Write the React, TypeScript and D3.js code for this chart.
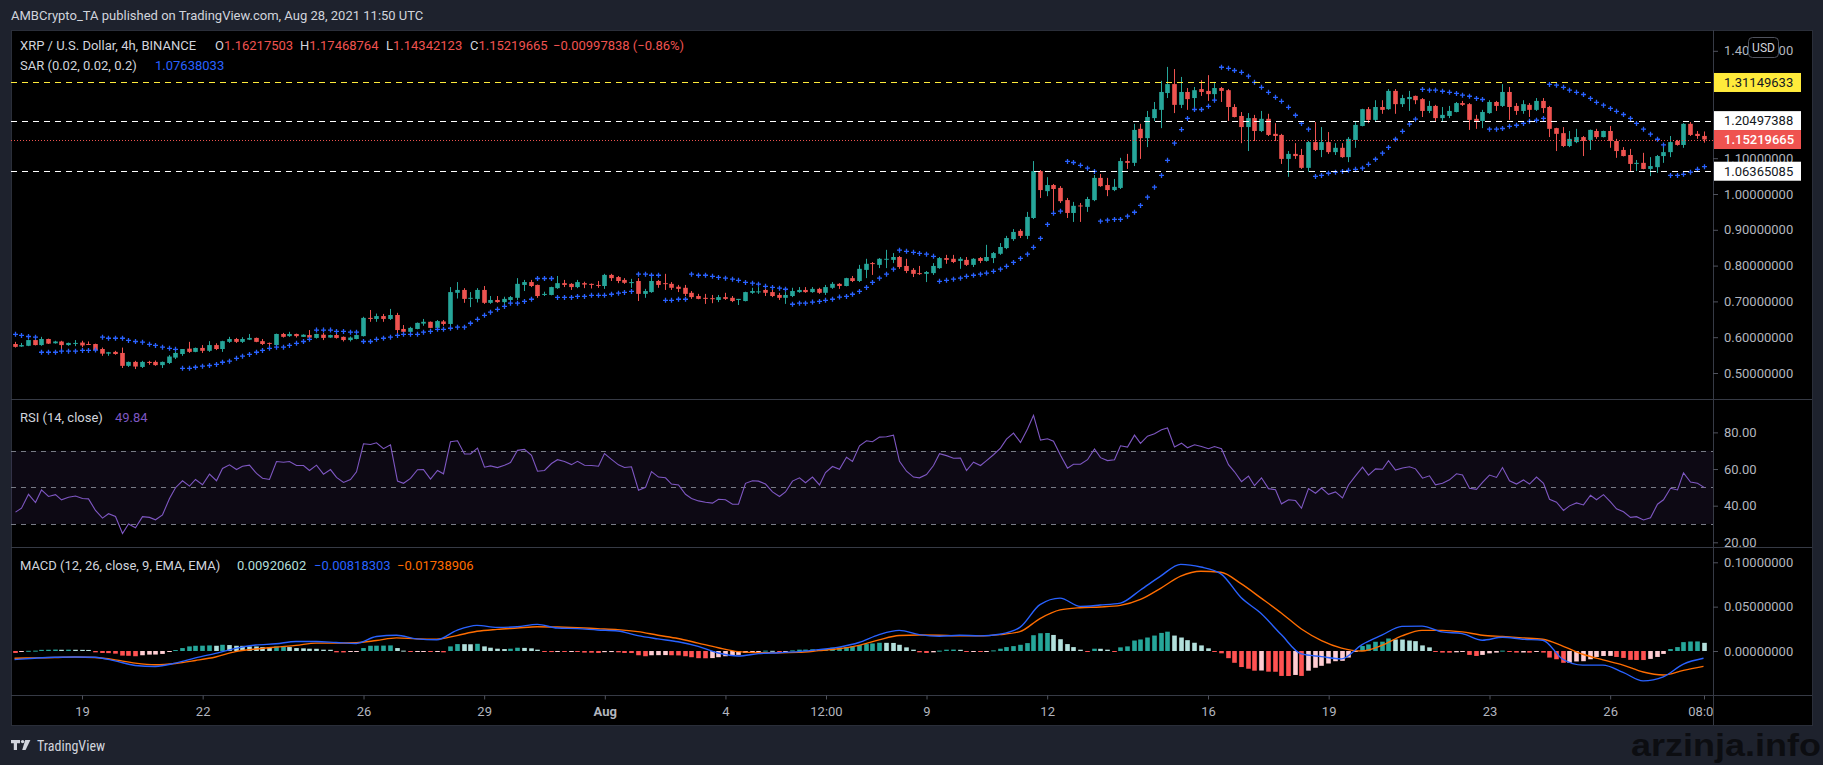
import * as d3 from "d3";
import React, { useEffect, useRef } from "react";

const W = 1823;
const H = 765;
const FONT = "Roboto, 'Noto Sans', sans-serif";

// pane geometry
const LEFT = 11;
const RIGHT = 1812;
const AXIS_X = 1713;
const TOP = 30;
const PRICE_BOTTOM = 399;
const RSI_BOTTOM = 547;
const MACD_BOTTOM = 695;
const BOTTOM = 725;

// 4h candles, Jul 17 08:00 -> Aug 28 08:00 : [open, high, low, close]
const candles: number[][] = [
  [0.581, 0.587, 0.571, 0.573], [0.574, 0.584, 0.573, 0.578], [0.576, 0.594, 0.575, 0.592], [0.592, 0.594, 0.577, 0.578],
  [0.578, 0.601, 0.576, 0.595], [0.595, 0.596, 0.581, 0.582], [0.583, 0.590, 0.582, 0.588], [0.588, 0.590, 0.567, 0.578],
  [0.578, 0.585, 0.576, 0.584], [0.582, 0.592, 0.575, 0.584], [0.585, 0.590, 0.572, 0.577], [0.581, 0.588, 0.578, 0.579],
  [0.581, 0.582, 0.563, 0.564], [0.567, 0.571, 0.548, 0.554], [0.554, 0.559, 0.548, 0.558], [0.559, 0.562, 0.551, 0.553],
  [0.556, 0.571, 0.514, 0.520], [0.520, 0.532, 0.517, 0.531], [0.531, 0.534, 0.511, 0.518], [0.517, 0.534, 0.514, 0.531],
  [0.531, 0.534, 0.523, 0.528], [0.531, 0.535, 0.520, 0.522], [0.522, 0.532, 0.514, 0.531], [0.528, 0.550, 0.525, 0.546],
  [0.543, 0.559, 0.539, 0.556], [0.553, 0.567, 0.548, 0.567], [0.568, 0.587, 0.556, 0.559], [0.559, 0.571, 0.558, 0.570],
  [0.570, 0.578, 0.556, 0.562], [0.562, 0.589, 0.559, 0.578], [0.578, 0.583, 0.564, 0.567], [0.567, 0.590, 0.559, 0.589],
  [0.587, 0.601, 0.584, 0.595], [0.595, 0.598, 0.584, 0.587], [0.587, 0.600, 0.584, 0.595], [0.593, 0.609, 0.592, 0.598],
  [0.598, 0.599, 0.586, 0.587], [0.589, 0.595, 0.578, 0.581], [0.584, 0.585, 0.570, 0.582], [0.578, 0.610, 0.577, 0.609],
  [0.609, 0.612, 0.599, 0.601], [0.603, 0.615, 0.601, 0.609], [0.609, 0.610, 0.599, 0.603], [0.601, 0.608, 0.601, 0.607],
  [0.606, 0.620, 0.596, 0.599], [0.598, 0.610, 0.596, 0.609], [0.607, 0.612, 0.592, 0.598], [0.599, 0.607, 0.598, 0.606],
  [0.606, 0.609, 0.596, 0.598], [0.601, 0.602, 0.588, 0.592], [0.592, 0.602, 0.588, 0.599], [0.595, 0.607, 0.594, 0.606],
  [0.603, 0.657, 0.602, 0.654], [0.654, 0.676, 0.643, 0.651], [0.651, 0.666, 0.643, 0.659], [0.659, 0.665, 0.643, 0.651],
  [0.651, 0.679, 0.648, 0.662], [0.662, 0.668, 0.609, 0.620], [0.623, 0.634, 0.606, 0.615], [0.615, 0.629, 0.612, 0.626],
  [0.623, 0.641, 0.622, 0.640], [0.638, 0.651, 0.632, 0.643], [0.643, 0.644, 0.625, 0.626], [0.626, 0.648, 0.624, 0.645],
  [0.644, 0.648, 0.632, 0.637], [0.637, 0.740, 0.626, 0.726], [0.724, 0.754, 0.708, 0.732], [0.732, 0.737, 0.696, 0.707],
  [0.708, 0.726, 0.684, 0.710], [0.707, 0.737, 0.697, 0.732], [0.732, 0.743, 0.693, 0.696], [0.696, 0.715, 0.693, 0.704],
  [0.704, 0.715, 0.696, 0.698], [0.698, 0.713, 0.693, 0.707], [0.704, 0.715, 0.701, 0.712], [0.710, 0.765, 0.704, 0.749],
  [0.746, 0.760, 0.729, 0.754], [0.754, 0.760, 0.740, 0.743], [0.746, 0.747, 0.710, 0.715], [0.718, 0.727, 0.715, 0.721],
  [0.718, 0.741, 0.717, 0.740], [0.737, 0.771, 0.735, 0.751], [0.751, 0.760, 0.740, 0.746], [0.749, 0.751, 0.732, 0.740],
  [0.740, 0.760, 0.737, 0.754], [0.751, 0.755, 0.737, 0.747], [0.749, 0.750, 0.736, 0.746], [0.746, 0.757, 0.738, 0.744],
  [0.743, 0.777, 0.735, 0.774], [0.774, 0.777, 0.757, 0.765], [0.768, 0.771, 0.751, 0.757], [0.760, 0.765, 0.749, 0.752],
  [0.751, 0.763, 0.738, 0.754], [0.757, 0.765, 0.701, 0.721], [0.721, 0.735, 0.710, 0.729], [0.726, 0.774, 0.724, 0.757],
  [0.757, 0.760, 0.738, 0.746], [0.751, 0.777, 0.732, 0.749], [0.749, 0.754, 0.732, 0.738], [0.741, 0.746, 0.726, 0.735],
  [0.738, 0.746, 0.715, 0.721], [0.724, 0.729, 0.707, 0.712], [0.715, 0.721, 0.706, 0.707], [0.710, 0.721, 0.693, 0.707],
  [0.709, 0.718, 0.695, 0.707], [0.704, 0.718, 0.698, 0.712], [0.712, 0.724, 0.704, 0.707], [0.710, 0.715, 0.698, 0.701],
  [0.704, 0.707, 0.690, 0.707], [0.701, 0.727, 0.700, 0.726], [0.724, 0.738, 0.721, 0.729], [0.726, 0.740, 0.721, 0.728],
  [0.732, 0.735, 0.715, 0.724], [0.726, 0.732, 0.712, 0.715], [0.718, 0.724, 0.704, 0.710], [0.710, 0.726, 0.693, 0.718],
  [0.715, 0.738, 0.712, 0.729], [0.726, 0.740, 0.724, 0.732], [0.732, 0.740, 0.724, 0.726], [0.726, 0.740, 0.724, 0.735],
  [0.735, 0.738, 0.721, 0.724], [0.724, 0.746, 0.718, 0.740], [0.738, 0.754, 0.735, 0.749], [0.749, 0.751, 0.735, 0.743],
  [0.743, 0.766, 0.742, 0.765], [0.765, 0.771, 0.754, 0.757], [0.757, 0.802, 0.754, 0.791], [0.788, 0.819, 0.765, 0.805],
  [0.807, 0.810, 0.774, 0.805], [0.802, 0.821, 0.793, 0.819], [0.818, 0.844, 0.793, 0.819], [0.816, 0.835, 0.807, 0.824],
  [0.824, 0.827, 0.791, 0.796], [0.799, 0.819, 0.779, 0.785], [0.788, 0.793, 0.768, 0.777], [0.779, 0.799, 0.774, 0.777],
  [0.777, 0.785, 0.754, 0.782], [0.779, 0.807, 0.774, 0.799], [0.793, 0.824, 0.791, 0.821], [0.821, 0.830, 0.805, 0.816],
  [0.819, 0.830, 0.807, 0.810], [0.813, 0.824, 0.791, 0.819], [0.816, 0.824, 0.799, 0.802], [0.802, 0.821, 0.796, 0.819],
  [0.821, 0.824, 0.807, 0.813], [0.813, 0.858, 0.811, 0.824], [0.821, 0.838, 0.807, 0.835], [0.833, 0.863, 0.830, 0.852],
  [0.849, 0.883, 0.846, 0.877], [0.874, 0.902, 0.869, 0.894], [0.897, 0.902, 0.877, 0.883], [0.883, 0.950, 0.874, 0.936],
  [0.933, 1.092, 0.930, 1.064], [1.064, 1.067, 0.989, 1.011], [1.008, 1.047, 0.994, 1.025], [1.025, 1.028, 0.947, 1.014],
  [1.017, 1.022, 0.975, 0.980], [0.983, 0.989, 0.933, 0.947], [0.947, 0.978, 0.922, 0.967], [0.968, 0.975, 0.922, 0.967],
  [0.964, 0.992, 0.950, 0.986], [0.983, 1.053, 0.980, 1.045], [1.045, 1.056, 1.020, 1.022], [1.025, 1.045, 0.994, 1.011],
  [1.011, 1.042, 1.008, 1.020], [1.017, 1.101, 1.014, 1.092], [1.092, 1.112, 1.070, 1.087], [1.087, 1.196, 1.078, 1.179],
  [1.182, 1.196, 1.098, 1.156], [1.156, 1.232, 1.131, 1.215], [1.212, 1.257, 1.204, 1.237], [1.235, 1.316, 1.184, 1.285],
  [1.282, 1.355, 1.268, 1.307], [1.307, 1.349, 1.226, 1.249], [1.249, 1.327, 1.240, 1.285], [1.285, 1.296, 1.235, 1.265],
  [1.268, 1.299, 1.243, 1.290], [1.293, 1.318, 1.274, 1.285], [1.288, 1.332, 1.260, 1.279], [1.279, 1.313, 1.257, 1.296],
  [1.296, 1.299, 1.257, 1.288], [1.290, 1.293, 1.204, 1.243], [1.243, 1.251, 1.214, 1.215], [1.218, 1.229, 1.142, 1.187],
  [1.187, 1.226, 1.120, 1.212], [1.212, 1.221, 1.148, 1.176], [1.176, 1.232, 1.173, 1.210], [1.210, 1.224, 1.162, 1.165],
  [1.168, 1.198, 1.148, 1.162], [1.165, 1.168, 1.084, 1.098], [1.098, 1.120, 1.048, 1.112], [1.112, 1.142, 1.098, 1.106],
  [1.109, 1.126, 1.070, 1.073], [1.073, 1.148, 1.062, 1.145], [1.145, 1.201, 1.120, 1.123], [1.123, 1.187, 1.103, 1.145],
  [1.145, 1.173, 1.112, 1.117], [1.117, 1.142, 1.109, 1.129], [1.129, 1.142, 1.101, 1.103], [1.103, 1.159, 1.089, 1.154],
  [1.151, 1.204, 1.129, 1.193], [1.190, 1.238, 1.189, 1.237], [1.237, 1.243, 1.198, 1.207], [1.207, 1.262, 1.204, 1.243],
  [1.243, 1.262, 1.224, 1.235], [1.237, 1.293, 1.235, 1.288], [1.288, 1.293, 1.224, 1.251], [1.251, 1.277, 1.243, 1.268],
  [1.265, 1.288, 1.232, 1.271], [1.274, 1.275, 1.251, 1.262], [1.265, 1.268, 1.215, 1.232], [1.232, 1.260, 1.226, 1.246],
  [1.246, 1.249, 1.204, 1.212], [1.212, 1.243, 1.204, 1.221], [1.218, 1.246, 1.212, 1.232], [1.229, 1.257, 1.228, 1.254],
  [1.254, 1.260, 1.246, 1.249], [1.251, 1.254, 1.179, 1.207], [1.210, 1.221, 1.182, 1.204], [1.204, 1.235, 1.184, 1.229],
  [1.226, 1.262, 1.224, 1.257], [1.257, 1.260, 1.232, 1.246], [1.246, 1.307, 1.243, 1.285], [1.285, 1.299, 1.207, 1.243],
  [1.246, 1.254, 1.221, 1.232], [1.232, 1.262, 1.224, 1.251], [1.249, 1.254, 1.215, 1.235], [1.235, 1.268, 1.232, 1.260],
  [1.260, 1.268, 1.226, 1.240], [1.243, 1.246, 1.159, 1.182], [1.184, 1.185, 1.120, 1.168], [1.170, 1.187, 1.131, 1.134],
  [1.134, 1.176, 1.131, 1.154], [1.145, 1.182, 1.142, 1.159], [1.159, 1.162, 1.106, 1.148], [1.151, 1.180, 1.123, 1.179],
  [1.176, 1.182, 1.154, 1.159], [1.159, 1.177, 1.158, 1.176], [1.176, 1.190, 1.129, 1.148], [1.148, 1.154, 1.101, 1.120],
  [1.123, 1.131, 1.105, 1.106], [1.109, 1.126, 1.064, 1.084], [1.084, 1.095, 1.064, 1.087], [1.087, 1.115, 1.069, 1.070],
  [1.070, 1.103, 1.050, 1.078], [1.075, 1.109, 1.059, 1.106], [1.106, 1.137, 1.087, 1.117], [1.117, 1.162, 1.103, 1.145],
  [1.148, 1.151, 1.135, 1.137], [1.137, 1.198, 1.129, 1.196], [1.196, 1.201, 1.162, 1.165], [1.168, 1.176, 1.154, 1.162],
  [1.16217503, 1.17468764, 1.14342123, 1.15219665],
];

// last candle change, as shown in the legend
const lastChange = -0.00997838;
const lastChangePct = -0.86;

// Parabolic SAR, one per candle
const sar: number[] = [
  0.608, 0.605, 0.602, 0.600,
  0.558, 0.558, 0.558, 0.561, 0.561, 0.561, 0.563, 0.563, 0.564,
  0.600, 0.597, 0.597, 0.597, 0.591, 0.588, 0.586, 0.580, 0.577, 0.572, 0.569, 0.566,
  0.513, 0.513, 0.516, 0.519, 0.521, 0.524, 0.530, 0.533, 0.541, 0.547, 0.552, 0.558, 0.563, 0.569, 0.572, 0.572, 0.577, 0.583, 0.588, 0.594,
  0.620, 0.620, 0.620, 0.616, 0.616, 0.614, 0.614,
  0.588, 0.588, 0.594, 0.597, 0.600, 0.605, 0.608, 0.608, 0.608, 0.614, 0.616, 0.622, 0.622, 0.625, 0.628, 0.628, 0.639, 0.650, 0.661, 0.670, 0.678, 0.686, 0.695, 0.695, 0.700, 0.706,
  0.764, 0.764, 0.764,
  0.711, 0.711, 0.711, 0.714, 0.714,
  0.717, 0.717, 0.717, 0.720, 0.723, 0.725, 0.728,
  0.776, 0.776, 0.773, 0.773,
  0.703, 0.703, 0.706, 0.706,
  0.776, 0.773, 0.773, 0.770, 0.767, 0.765, 0.762, 0.759, 0.753, 0.751, 0.748, 0.742, 0.739, 0.737, 0.734,
  0.692, 0.695, 0.695, 0.698, 0.700, 0.703, 0.706, 0.712, 0.714, 0.720, 0.728, 0.739, 0.753, 0.765, 0.776, 0.790,
  0.843, 0.840, 0.837, 0.834, 0.832, 0.826,
  0.756, 0.759, 0.762, 0.765, 0.770, 0.773, 0.776, 0.779, 0.784, 0.790, 0.798, 0.809, 0.820, 0.832, 0.851, 0.876, 0.915, 0.946, 0.952,
  1.091, 1.088, 1.080, 1.072, 1.063,
  0.924, 0.927, 0.929, 0.929, 0.938, 0.949, 0.968, 0.991, 1.019, 1.052, 1.094, 1.142, 1.180, 1.211, 1.236, 1.236, 1.245, 1.262,
  1.354, 1.351, 1.345, 1.340, 1.329, 1.312, 1.298, 1.284, 1.270, 1.259, 1.242, 1.220, 1.197, 1.181,
  1.049, 1.052, 1.058, 1.061, 1.063, 1.066, 1.069, 1.072, 1.083, 1.097, 1.114, 1.130, 1.153, 1.175, 1.195, 1.209,
  1.292, 1.290, 1.290, 1.287, 1.284, 1.281, 1.276, 1.273, 1.267, 1.264,
  1.181, 1.181, 1.183, 1.189, 1.192, 1.197, 1.203, 1.206, 1.211,
  1.306, 1.304, 1.298, 1.290, 1.284, 1.278, 1.267, 1.256, 1.248, 1.239, 1.231, 1.222, 1.211, 1.197, 1.181, 1.167, 1.153, 1.137,
  1.052, 1.052, 1.055, 1.061, 1.069, 1.07638033,
];

// RSI(14), one per candle
const rsi: number[] = [
  36.5, 38.6, 46.2, 41.7, 48.6, 45.0, 46.0, 43.2, 44.6, 45.3,
  43.9, 43.7, 37.4, 33.2, 35.6, 34.1, 24.8, 30.0, 27.9, 34.0,
  33.6, 32.3, 35.0, 43.9, 49.8, 53.6, 50.7, 54.3, 51.4, 57.2,
  53.6, 60.3, 62.3, 59.7, 61.5, 62.1, 57.6, 55.0, 54.3, 64.1,
  63.7, 64.1, 61.9, 61.9, 59.2, 62.1, 57.2, 59.7, 55.4, 52.7,
  54.3, 58.5, 73.8, 73.4, 74.3, 71.1, 73.2, 53.4, 52.2, 54.9,
  59.6, 59.7, 54.5, 59.2, 57.4, 74.9, 75.4, 68.2, 68.2, 71.4,
  61.0, 61.7, 60.8, 62.1, 63.5, 70.2, 70.7, 67.5, 58.8, 59.2,
  63.0, 65.1, 64.1, 62.4, 64.2, 62.1, 61.9, 61.5, 68.4, 65.3,
  62.3, 60.8, 61.2, 48.4, 50.0, 58.6, 55.6, 55.2, 51.8, 51.3,
  46.2, 43.9, 42.6, 41.9, 41.4, 43.5, 43.2, 40.8, 40.8, 52.2,
  53.6, 53.4, 51.8, 47.5, 45.0, 47.5, 53.4, 55.2, 52.5, 55.6,
  51.3, 58.1, 61.4, 59.9, 66.4, 64.1, 72.7, 75.4, 74.9, 77.4,
  77.6, 78.5, 64.2, 58.8, 55.6, 55.2, 57.0, 61.9, 68.4, 67.3,
  65.9, 66.0, 59.2, 63.7, 61.9, 64.6, 67.8, 71.4, 76.3, 79.6,
  74.5, 81.9, 89.3, 75.8, 76.5, 75.2, 67.5, 60.5, 62.6, 62.6,
  65.1, 70.9, 66.2, 64.6, 65.1, 72.7, 72.0, 78.5, 74.0, 77.9,
  79.2, 81.4, 82.4, 72.0, 74.1, 71.6, 73.2, 72.3, 71.1, 72.3,
  71.1, 62.4, 58.5, 53.1, 56.1, 50.9, 55.2, 49.3, 48.7, 41.0,
  43.2, 42.8, 38.6, 49.3, 46.8, 49.6, 46.2, 47.5, 44.2, 51.3,
  56.3, 61.0, 56.7, 60.1, 59.9, 64.6, 59.4, 60.6, 61.2, 60.1,
  55.0, 56.3, 51.4, 52.2, 54.1, 57.4, 56.8, 49.5, 48.9, 52.7,
  56.7, 55.4, 60.8, 53.6, 51.8, 54.0, 51.8, 55.6, 52.2, 43.5,
  41.9, 37.4, 39.9, 41.5, 40.4, 45.7, 43.2, 46.0, 42.1, 38.3,
  36.7, 33.6, 34.0, 32.2, 33.4, 40.8, 43.2, 49.5, 48.6, 57.9,
  52.9, 52.2, 49.84,
];

// MACD and signal, read at every third candle (0, 3, 6, ... 252)
const MACD_STEP = 3;
const macdLine: number[] = [
  -0.0096, -0.0081, -0.0070, -0.0067, -0.0070, -0.0111, -0.0163, -0.0174, -0.0137, -0.0078,
  -0.0026, 0.0030, 0.0067, 0.0081, 0.0107, 0.0107, 0.0096, 0.0085, 0.0163, 0.0178,
  0.0137, 0.0126, 0.0233, 0.0289, 0.0266, 0.0274, 0.0300, 0.0259, 0.0252,
  0.0237, 0.0226, 0.0174, 0.0137, 0.0104, 0.0052, -0.0022, -0.0056, -0.0030, -0.0019,
  -0.0007, 0.0015, 0.0044, 0.0096, 0.0185, 0.0233, 0.0185, 0.0167, 0.0178, 0.0170,
  0.0189, 0.0266, 0.0522, 0.0596, 0.0503, 0.0518,
  0.0540, 0.0688, 0.0844, 0.0977, 0.0947, 0.0870, 0.0603, 0.0422, 0.0185, -0.0033,
  -0.0063, -0.0089, 0.0070, 0.0178, 0.0278, 0.0281, 0.0215, 0.0196, 0.0122, 0.0155,
  0.0133, 0.0122, -0.0093, -0.0159, -0.0159, -0.0241, -0.0337, -0.0292, -0.0148, -0.00818303,
];
const signalLine: number[] = [
  -0.0081, -0.0078, -0.0074, -0.0067, -0.0074, -0.0100, -0.0137, -0.0155, -0.0141, -0.0107,
  -0.0067, -0.0007, 0.0022, 0.0044, 0.0063, 0.0089, 0.0089, 0.0093, 0.0118, 0.0148,
  0.0137, 0.0133, 0.0174, 0.0222, 0.0244, 0.0259, 0.0274, 0.0270, 0.0263,
  0.0252, 0.0241, 0.0218, 0.0178, 0.0141, 0.0089, 0.0037, -0.0007, -0.0019, -0.0019,
  -0.0015, 0.0004, 0.0026, 0.0063, 0.0126, 0.0174, 0.0181, 0.0178, 0.0170, 0.0170,
  0.0185, 0.0218, 0.0366, 0.0463, 0.0488, 0.0496,
  0.0514, 0.0581, 0.0707, 0.0844, 0.0899, 0.0888, 0.0759, 0.0596, 0.0429, 0.0248,
  0.0118, 0.0033, 0.0000, 0.0063, 0.0170, 0.0233, 0.0233, 0.0215, 0.0178, 0.0163,
  0.0148, 0.0133, 0.0056, -0.0037, -0.0100, -0.0159, -0.0237, -0.0270, -0.0218, -0.01738906,
];

// MACD histogram, one per candle
const histogram: number[] = [
  -0.0022, -0.0011, 0.0002, 0.0004, 0.0013, 0.0014, 0.0016, 0.0014, 0.0015, 0.0014, 0.0013, 0.0012,
  -0.0015, -0.0022, -0.0024, -0.0030, -0.0052, -0.0054, -0.0059, -0.0048, -0.0041, -0.0040, -0.0033, -0.0011,
  0.0011, 0.0033, 0.0052, 0.0059, 0.0060, 0.0063, 0.0059, 0.0070, 0.0067, 0.0059, 0.0058, 0.0052, 0.0051, 0.0044, 0.0041,
  0.0052, 0.0055, 0.0044, 0.0033, 0.0030, 0.0026, 0.0025, 0.0015, 0.0014,
  -0.0015, -0.0016, -0.0011, -0.0010,
  0.0033, 0.0059, 0.0060, 0.0061, 0.0063, 0.0033, 0.0004,
  -0.0011, -0.0007, -0.0006, -0.0011, -0.0007, -0.0015,
  0.0052, 0.0078, 0.0077, 0.0076, 0.0081, 0.0052, 0.0037, 0.0026, 0.0022, 0.0026, 0.0037, 0.0035, 0.0030, 0.0015,
  -0.0011, -0.0012, -0.0007, -0.0011, -0.0007, -0.0011, -0.0018, -0.0019, -0.0022, -0.0013, -0.0012, -0.0015, -0.0022, -0.0023,
  -0.0048, -0.0059, -0.0048, -0.0047, -0.0046, -0.0048, -0.0050, -0.0059, -0.0070, -0.0081, -0.0082, -0.0080, -0.0070, -0.0059, -0.0048, -0.0044, -0.0022, -0.0011, -0.0006,
  0.0004, 0.0002,
  -0.0004, -0.0002,
  0.0007, 0.0015, 0.0016, 0.0019, 0.0015, 0.0022, 0.0037, 0.0041, 0.0044, 0.0052, 0.0067, 0.0078, 0.0085, 0.0093, 0.0092, 0.0091, 0.0070, 0.0041, 0.0015,
  -0.0015, -0.0022, -0.0015,
  0.0004, 0.0015, 0.0016, 0.0014,
  -0.0007, -0.0004, -0.0006, -0.0001,
  0.0007, 0.0026, 0.0044, 0.0055, 0.0070, 0.0089, 0.0178, 0.0200, 0.0203, 0.0181, 0.0133, 0.0078, 0.0044, 0.0015,
  -0.0004,
  0.0026, 0.0025, 0.0015,
  -0.0004,
  0.0041, 0.0052, 0.0118, 0.0130, 0.0152, 0.0174, 0.0204, 0.0218, 0.0174, 0.0152, 0.0122, 0.0093, 0.0063, 0.0030,
  -0.0007, -0.0026, -0.0081, -0.0133, -0.0181, -0.0200, -0.0222, -0.0220, -0.0233, -0.0234, -0.0281, -0.0282, -0.0270, -0.0281, -0.0222, -0.0189, -0.0167, -0.0141, -0.0115, -0.0111, -0.0074, -0.0007,
  0.0056, 0.0074, 0.0104, 0.0105, 0.0141, 0.0130, 0.0129, 0.0118, 0.0111, 0.0063, 0.0041,
  -0.0007, -0.0018, -0.0019, -0.0015, -0.0007, -0.0044, -0.0056, -0.0044, -0.0026, -0.0018,
  0.0004,
  -0.0004, -0.0018, -0.0017, -0.0019, -0.0007, -0.0018, -0.0074, -0.0093, -0.0133, -0.0132, -0.0118, -0.0115, -0.0093, -0.0067, -0.0056, -0.0055, -0.0067, -0.0078, -0.0100, -0.0101, -0.0102, -0.0089, -0.0067, -0.0033,
  0.0022, 0.0044, 0.0100, 0.0107, 0.0108, 0.00920602,
];

// horizontal levels drawn on the price pane
const levelValues = [1.31149633, 1.20497388, 1.06365085];

// axis ticks (1.2 and 1.3 sit under the level labels and are not shown)
const priceTicks = [0.5, 0.6, 0.7, 0.8, 0.9, 1.0, 1.1, 1.4];
const rsiTicks = [20, 40, 60, 80];
const macdTicks = [0, 0.05, 0.1];
const timeTickIdx = [10, 28, 52, 70, 88, 106, 121, 136, 154, 178, 196, 220, 238, 252];
const timeTickLabels = ["19", "22", "26", "29", "Aug", "4", "12:00", "9", "12", "16", "19", "23", "26", "08:00"];

const UP = "#26a69a";
const DOWN = "#ef5350";

type Sel = d3.Selection<SVGSVGElement, unknown, null, undefined>;

const App: React.FC = () => {
  const svgRef = useRef<SVGSVGElement>(null);

  useEffect(() => {
    const svg = d3.select(svgRef.current) as Sel;
    svg.selectAll("*").remove();
    drawChart(svg);
  }, []);

  return (
    <div style={{ position: "fixed", left: 0, top: 0, width: W, height: H, background: "#1e222d" }}>
      <svg ref={svgRef} width={W} height={H} style={{ display: "block" }} />
    </div>
  );
};

const drawChart = (svg: Sel) => {
  const last = candles.length - 1;
  const x = d3.scaleLinear().domain([0, last]).range([14.5, 1703.5]);
  const yPrice = d3.scaleLinear().domain([0.5, 1.4]).range([373, 50.8]);
  const yRsi = d3.scaleLinear().domain([30, 70]).range([524, 450.7]);
  const yMacd = d3.scaleLinear().domain([0, 0.1]).range([651, 562.3]);

  svg.append("rect").attr("width", W).attr("height", H).attr("fill", "#1e222d");
  svg
    .append("rect")
    .attr("x", LEFT + 0.5)
    .attr("y", TOP + 0.5)
    .attr("width", RIGHT - LEFT)
    .attr("height", BOTTOM - TOP)
    .attr("fill", "#000")
    .attr("stroke", "#2a2e39");

  const defs = svg.append("defs");
  const clip = (id: string, y0: number, y1: number, x0 = LEFT, x1 = AXIS_X) =>
    defs
      .append("clipPath")
      .attr("id", id)
      .append("rect")
      .attr("x", x0)
      .attr("y", y0)
      .attr("width", x1 - x0)
      .attr("height", y1 - y0);
  clip("cPrice", TOP, PRICE_BOTTOM);
  clip("cRsi", PRICE_BOTTOM, RSI_BOTTOM);
  clip("cMacd", RSI_BOTTOM, MACD_BOTTOM);
  clip("cTime", MACD_BOTTOM, BOTTOM);
  clip("cPriceAx", TOP, PRICE_BOTTOM, AXIS_X, RIGHT);
  clip("cRsiAx", PRICE_BOTTOM, RSI_BOTTOM, AXIS_X, RIGHT);
  clip("cMacdAx", RSI_BOTTOM, MACD_BOTTOM, AXIS_X, RIGHT);

  // ---------- price pane ----------
  const gP = svg.append("g").attr("clip-path", "url(#cPrice)");
  const bodyW = 4.6;

  gP.selectAll("line.wick")
    .data(candles)
    .join("line")
    .attr("class", "wick")
    .attr("x1", (_, i) => Math.round(x(i)) + 0.5)
    .attr("x2", (_, i) => Math.round(x(i)) + 0.5)
    .attr("y1", (d) => yPrice(d[1]))
    .attr("y2", (d) => yPrice(d[2]))
    .attr("stroke", (d) => (d[3] >= d[0] ? UP : DOWN))
    .attr("stroke-width", 1);

  gP.selectAll("rect.body")
    .data(candles)
    .join("rect")
    .attr("class", "body")
    .attr("x", (_, i) => Math.round(x(i)) + 0.5 - bodyW / 2)
    .attr("y", (d) => yPrice(Math.max(d[0], d[3])))
    .attr("width", bodyW)
    .attr("height", (d) => Math.max(1, yPrice(Math.min(d[0], d[3])) - yPrice(Math.max(d[0], d[3]))))
    .attr("fill", (d) => (d[3] >= d[0] ? UP : DOWN));

  gP.selectAll("path.sar")
    .data(sar)
    .join("path")
    .attr("class", "sar")
    .attr("d", (d, i) => {
      const cx = Math.round(x(i)) + 0.5;
      const cy = yPrice(d);
      return `M${cx - 2.5},${cy}h5M${cx},${cy - 2.5}v5`;
    })
    .attr("stroke", "#2962ff")
    .attr("stroke-width", 1.3);

  const levelColors = ["#ffeb3b", "#ffffff", "#ffffff"];
  gP.selectAll("line.level")
    .data(levelValues)
    .join("line")
    .attr("class", "level")
    .attr("x1", LEFT)
    .attr("x2", AXIS_X)
    .attr("y1", (d) => Math.round(yPrice(d)) + 0.5)
    .attr("y2", (d) => Math.round(yPrice(d)) + 0.5)
    .attr("stroke", (_, i) => levelColors[i])
    .attr("stroke-width", 1)
    .attr("stroke-dasharray", "6 5");

  const lastClose = candles[last][3];
  gP.append("line")
    .attr("x1", LEFT)
    .attr("x2", AXIS_X)
    .attr("y1", Math.round(yPrice(lastClose)) + 0.5)
    .attr("y2", Math.round(yPrice(lastClose)) + 0.5)
    .attr("stroke", DOWN)
    .attr("stroke-width", 1)
    .attr("stroke-dasharray", "1 2");

  // ---------- RSI pane ----------
  const gR = svg.append("g").attr("clip-path", "url(#cRsi)");
  gR.append("rect")
    .attr("x", LEFT)
    .attr("width", AXIS_X - LEFT)
    .attr("y", yRsi(70))
    .attr("height", yRsi(30) - yRsi(70))
    .attr("fill", "rgba(126,87,194,0.1)");
  gR.selectAll("line.band")
    .data([70, 50, 30])
    .join("line")
    .attr("class", "band")
    .attr("x1", LEFT)
    .attr("x2", AXIS_X)
    .attr("y1", (d) => Math.round(yRsi(d)) + 0.5)
    .attr("y2", (d) => Math.round(yRsi(d)) + 0.5)
    .attr("stroke", "#787b86")
    .attr("stroke-width", 1)
    .attr("stroke-dasharray", "5 5");
  gR.append("path")
    .datum(rsi)
    .attr(
      "d",
      d3
        .line<number>()
        .x((_, i) => Math.round(x(i)) + 0.5)
        .y((d) => yRsi(d))
    )
    .attr("fill", "none")
    .attr("stroke", "#7e57c2")
    .attr("stroke-width", 1.1);

  // ---------- MACD pane ----------
  const gM = svg.append("g").attr("clip-path", "url(#cMacd)");
  const histColor = (v: number, i: number) => {
    const prev = i > 0 ? histogram[i - 1] : v;
    if (v >= 0) return v >= prev ? "#26a69a" : "#b2dfdb";
    return v > prev ? "#ffcdd2" : "#ff5252";
  };
  gM.selectAll("rect.hist")
    .data(histogram)
    .join("rect")
    .attr("class", "hist")
    .attr("x", (_, i) => Math.round(x(i)) + 0.5 - bodyW / 2)
    .attr("y", (d) => Math.min(yMacd(0), yMacd(d)))
    .attr("width", bodyW)
    .attr("height", (d) => Math.max(1, Math.abs(yMacd(d) - yMacd(0))))
    .attr("fill", (d, i) => histColor(d, i));

  const macdPath = d3
    .line<number>()
    .x((_, i) => x(i * MACD_STEP))
    .y((d) => yMacd(d))
    .curve(d3.curveMonotoneX);
  gM.append("path")
    .datum(signalLine)
    .attr("d", macdPath)
    .attr("fill", "none")
    .attr("stroke", "#ff6d00")
    .attr("stroke-width", 1.4);
  gM.append("path")
    .datum(macdLine)
    .attr("d", macdPath)
    .attr("fill", "none")
    .attr("stroke", "#2962ff")
    .attr("stroke-width", 1.4);

  // ---------- separators ----------
  const sep = svg.append("g").attr("stroke", "#363a45").attr("stroke-width", 1);
  [PRICE_BOTTOM, RSI_BOTTOM, MACD_BOTTOM].forEach((y) =>
    sep.append("line").attr("x1", LEFT).attr("x2", RIGHT).attr("y1", y + 0.5).attr("y2", y + 0.5)
  );
  sep.append("line").attr("x1", AXIS_X + 0.5).attr("x2", AXIS_X + 0.5).attr("y1", TOP).attr("y2", BOTTOM);

  // ---------- axes ----------
  const styleAxis = (g: d3.Selection<SVGGElement, unknown, null, undefined>) => {
    g.select(".domain").remove();
    g.selectAll(".tick line").attr("stroke", "#50535e");
    g.selectAll(".tick text")
      .attr("fill", "#b2b5be")
      .attr("font-family", FONT)
      .attr("font-size", 13);
  };

  const gPA = svg
    .append("g")
    .attr("clip-path", "url(#cPriceAx)")
    .append("g")
    .attr("transform", `translate(${AXIS_X},0)`)
    .call(d3.axisRight(yPrice).tickValues(priceTicks).tickFormat((d) => (+d).toFixed(8)).tickSize(5).tickPadding(6));
  styleAxis(gPA);

  const gRA = svg
    .append("g")
    .attr("clip-path", "url(#cRsiAx)")
    .append("g")
    .attr("transform", `translate(${AXIS_X},0)`)
    .call(d3.axisRight(yRsi).tickValues(rsiTicks).tickFormat((d) => (+d).toFixed(2)).tickSize(5).tickPadding(6));
  styleAxis(gRA);

  const gMA = svg
    .append("g")
    .attr("clip-path", "url(#cMacdAx)")
    .append("g")
    .attr("transform", `translate(${AXIS_X},0)`)
    .call(d3.axisRight(yMacd).tickValues(macdTicks).tickFormat((d) => (+d).toFixed(8)).tickSize(5).tickPadding(6));
  styleAxis(gMA);

  const gTA = svg
    .append("g")
    .attr("clip-path", "url(#cTime)")
    .append("g")
    .attr("transform", `translate(0.5,${MACD_BOTTOM + 0.5})`)
    .call(
      d3
        .axisBottom(x)
        .tickValues(timeTickIdx)
        .tickFormat((_, i) => timeTickLabels[i])
        .tickSize(4)
        .tickPadding(7)
    );
  styleAxis(gTA);
  gTA.selectAll(".tick text").attr("font-weight", (_, i) => (timeTickLabels[i] === "Aug" ? 700 : 400));

  // price labels on the axis
  const labelVals = [...levelValues, lastClose];
  const labelBg = ["#ffeb3b", "#ffffff", "#ffffff", DOWN];
  const labelFg = ["#131722", "#131722", "#131722", "#ffffff"];
  const gL = svg.append("g");
  labelVals.forEach((v, i) => {
    const cy = yPrice(v);
    gL.append("rect")
      .attr("x", AXIS_X + 1)
      .attr("y", cy - 9.5)
      .attr("width", 87)
      .attr("height", 19)
      .attr("fill", labelBg[i]);
    gL.append("text")
      .attr("x", AXIS_X + 11)
      .attr("y", cy)
      .attr("dy", "0.35em")
      .attr("fill", labelFg[i])
      .attr("font-family", FONT)
      .attr("font-size", 13)
      .attr("font-weight", i === 3 ? 500 : 400)
      .text(v.toFixed(8));
  });

  // USD badge
  svg.append("rect")
    .attr("x", 1748.5)
    .attr("y", 37.5)
    .attr("width", 30)
    .attr("height", 20)
    .attr("rx", 4)
    .attr("fill", "#000")
    .attr("stroke", "#50535e");
  svg.append("text")
    .attr("x", 1763.5)
    .attr("y", 48)
    .attr("dy", "0.35em")
    .attr("text-anchor", "middle")
    .attr("fill", "#d1d4dc")
    .attr("font-family", FONT)
    .attr("font-size", 12)
    .text("USD");

  // ---------- legends ----------
  const txt = (xp: number, yp: number, s: string, fill: string, size = 13) =>
    svg
      .append("text")
      .attr("x", xp)
      .attr("y", yp)
      .attr("fill", fill)
      .attr("font-family", FONT)
      .attr("font-size", size)
      .text(s);

  txt(LEFT, 20, "AMBCrypto_TA published on TradingView.com, Aug 28, 2021 11:50 UTC", "#d1d4dc", 13);

  const [o, h, l, c] = candles[last];
  const LEG = "#d1d4dc";
  const fmt = (v: number, d = 8) => (v < 0 ? "\u2212" : "") + Math.abs(v).toFixed(d);
  txt(20, 50, "XRP / U.S. Dollar, 4h, BINANCE", LEG);
  const ohlcParts: [string, number, number][] = [
    ["O", o, 215],
    ["H", h, 300],
    ["L", l, 386],
    ["C", c, 470],
  ];
  ohlcParts.forEach(([k, v, xp]) => {
    const t = txt(xp, 50, "", LEG);
    t.append("tspan").text(k);
    t.append("tspan").attr("fill", DOWN).text(v.toFixed(8));
  });
  txt(553, 50, `${fmt(lastChange)} (${fmt(lastChangePct, 2)}%)`, DOWN);

  txt(20, 70, "SAR (0.02, 0.02, 0.2)", LEG);
  txt(155, 70, sar[last].toFixed(8), "#2962ff");

  txt(20, 422, "RSI (14, close)", LEG);
  txt(115, 422, rsi[last].toFixed(2), "#7e57c2");

  const mLast = macdLine[macdLine.length - 1];
  const sLast = signalLine[signalLine.length - 1];
  txt(20, 570, "MACD (12, 26, close, 9, EMA, EMA)", LEG);
  txt(237, 570, fmt(histogram[last]), "#b2dfdb");
  txt(314, 570, fmt(mLast), "#2962ff");
  txt(397, 570, fmt(sLast), "#ff6d00");

  // ---------- footer ----------
  const logo = svg.append("g").attr("fill", "#d1d4dc");
  logo.append("path").attr("d", "M11,740 h9 v3.2 h-3 v6.8 h-3.2 v-6.8 h-2.8 z");
  logo.append("circle").attr("cx", 22.6).attr("cy", 741.6).attr("r", 1.7);
  logo.append("path").attr("d", "M25.2,740 h5.2 l-4.8,10 h-3.4 z");
  txt(37, 751, "TradingView", "#d1d4dc", 14).attr("font-family", "'Liberation Sans Narrow', 'Roboto Condensed', Roboto, sans-serif");

  svg.append("text")
    .attr("x", 1631)
    .attr("y", 756)
    .attr("fill", "#0c0d11")
    .attr("font-family", "'Liberation Sans Narrow', 'Liberation Sans', Arial, sans-serif")
    .attr("font-weight", 700)
    .attr("font-size", 32)
    .attr("textLength", 190)
    .attr("lengthAdjust", "spacingAndGlyphs")
    .text("arzinja.info");
};

export default App;
